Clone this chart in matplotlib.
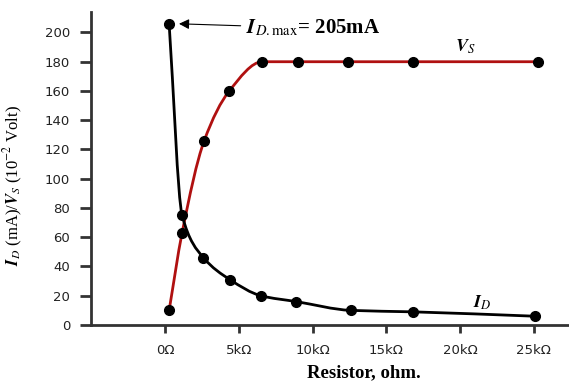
import matplotlib
matplotlib.use("Agg")
import numpy as np
import matplotlib.pyplot as plt
from matplotlib.path import Path
from matplotlib.patches import PathPatch

plt.rcParams["mathtext.fontset"] = "stix"

# resistor values in kOhm
r_id = [0.27, 1.15, 2.6, 4.4, 6.5, 8.9, 12.6, 16.8, 25.1]
i_d = [206, 75, 46, 31, 20, 16, 10, 9, 6]

r_vs = [0.27, 1.15, 2.65, 4.35, 6.6, 9.0, 12.4, 16.8, 25.3]
v_s = [10, 63, 126, 160, 180, 180, 180, 180, 180]

x_ticks = [0, 5, 10, 15, 20, 25]
x_labels = ["0Ω", "5kΩ", "10kΩ", "15kΩ", "20kΩ", "25kΩ"]
y_ticks = list(range(0, 201, 20))

serif = "Liberation Serif"
axis_col = "#333333"


def smooth_path(xs, ys):
    """Monotone cubic (Fritsch-Carlson) through the points, as bezier segments."""
    x = np.asarray(xs, float)
    y = np.asarray(ys, float)
    h = np.diff(x)
    d = np.diff(y) / h
    m = np.zeros_like(y)
    m[0], m[-1] = d[0], d[-1]
    for i in range(1, len(x) - 1):
        if d[i - 1] * d[i] <= 0:
            m[i] = 0
        else:
            w1 = 2 * h[i] + h[i - 1]
            w2 = h[i] + 2 * h[i - 1]
            m[i] = (w1 + w2) / (w1 / d[i - 1] + w2 / d[i])
    verts = [(x[0], y[0])]
    codes = [Path.MOVETO]
    for i in range(len(x) - 1):
        verts += [(x[i] + h[i] / 3, y[i] + m[i] * h[i] / 3),
                  (x[i + 1] - h[i] / 3, y[i + 1] - m[i + 1] * h[i] / 3),
                  (x[i + 1], y[i + 1])]
        codes += [Path.CURVE4] * 3
    return Path(verts, codes)


fig = plt.figure(figsize=(5.69, 3.83), dpi=100)
ax = fig.add_axes([91 / 569, 1 - 325 / 383, 1 - 91 / 569, (325 - 12) / 383])

ax.add_patch(PathPatch(smooth_path(r_id, i_d), fill=False, ec="black", lw=2, zorder=3))
ax.add_patch(PathPatch(smooth_path(r_vs, v_s), fill=False, ec="#b01010", lw=2, zorder=2))
ax.plot(r_id, i_d, ls="none", marker="o", ms=7, color="black", zorder=4)
ax.plot(r_vs, v_s, ls="none", marker="o", ms=7, color="black", zorder=4)

ax.set_xlim(-5.03, 27.4)
ax.set_ylim(0, 214)
ax.set_xticks(x_ticks)
ax.set_xticklabels(x_labels)
ax.set_yticks(y_ticks)

for side in ("top", "right"):
    ax.spines[side].set_visible(False)
for side in ("left", "bottom"):
    ax.spines[side].set_color(axis_col)
    ax.spines[side].set_linewidth(2)
ax.tick_params(axis="both", colors=axis_col, width=2, labelsize=9.5, labelcolor="#222222")
ax.tick_params(axis="y", length=8, pad=7)
ax.tick_params(axis="x", length=6, pad=8)

ax.set_xlabel("Resistor, ohm.", fontfamily=serif, fontsize=13.5, fontweight="bold")
ax.xaxis.set_label_coords(0.57, -0.125)
ax.set_ylabel(r"$\mathbfit{I}_D$ (mA)/$\mathbfit{V}_S$ (10$^{-2}$ Volt)",
              fontfamily=serif, fontsize=12)
ax.yaxis.set_label_coords(-0.138, 0.447)

ax.annotate(r"$\mathbfit{I}_{D.\mathrm{max}}$= 205mA", xy=(0.75, 206), xytext=(5.5, 203),
            fontfamily=serif, fontsize=15, fontweight="bold", va="center",
            arrowprops=dict(arrowstyle="-|>", color="black", lw=0.8, shrinkA=2, shrinkB=2))
ax.text(20.4, 190, r"$\mathbfit{V}_S$", fontsize=13, ha="center", va="center")
ax.text(21.5, 15, r"$\mathbfit{I}_D$", fontsize=13, ha="center", va="center")

fig.savefig("out.png", dpi=100)
